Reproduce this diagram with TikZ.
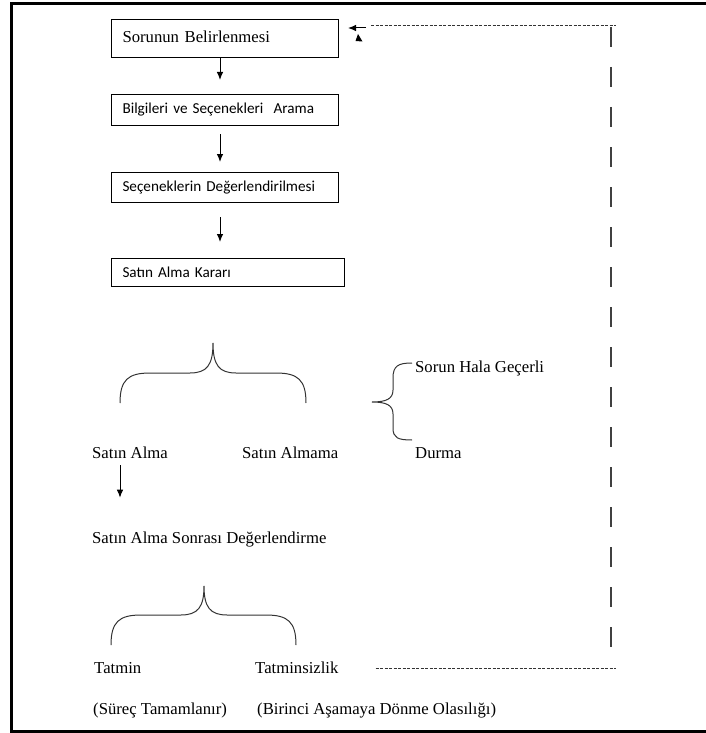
\documentclass[tikz,border=0pt]{standalone}
\usepackage{fontspec}
\setmainfont{Liberation Serif}
\newfontfamily\calibri{Carlito}
\usetikzlibrary{positioning, arrows.meta}
\tikzstyle{adim}=[draw,line width=1pt,anchor=north west,minimum width=227pt,text width=205pt,inner xsep=11pt,align=left,font=\calibri\fontsize{15.2}{18}\selectfont]
\tikzstyle{etiket}=[anchor=base west,inner sep=0pt,font=\fontsize{16.7}{20}\selectfont]
\tikzstyle{ok}=[-{Latex[length=8pt,width=6.5pt]},line width=1pt]
\tikzstyle{kavis}=[line width=1pt,black!80]
\tikzstyle{ince}=[dash pattern=on 3pt off 1.5pt,line width=1pt,black!80]
\tikzstyle{kalin}=[dash pattern=on 20pt off 20pt,line width=1.6pt,black!75]

\begin{document}
\begin{tikzpicture}[x=1pt,y=-1pt]
    \useasboundingbox (0,0) rectangle (705,733);
    \draw[line width=3pt] (706,3.5) -- (11.5,3.5) -- (11.5,731.5) -- (706,731.5);
    % karar adimlari
    \node[adim,font=\fontsize{16.7}{20}\selectfont,text height=19pt,text depth=11pt,inner ysep=4pt] (b1) at (111,19) {Sorunun Belirlenmesi};
    \node[adim,minimum height=31pt] (b2) at (111,94) {Bilgileri ve Seçenekleri\ \ Arama};
    \node[adim,minimum height=30pt] (b3) at (111,172) {Seçeneklerin Değerlendirilmesi};
    \node[adim,minimum height=28pt,minimum width=233pt,text width=211pt] (b4) at (111,258) {Satın Alma Kararı};
    \foreach \a/\b/\s/\e in {b1/b2/0/14, b2/b3/8/10, b3/b4/14/16}
        \draw[ok,shorten <=\s pt,shorten >=\e pt] ([xshift=-5pt]\a.south) -- ([xshift=-5pt]\a.south |- \b.north);
    % sonuclar
    \foreach \n/\x/\y/\t in {sorun/415/372.5/Sorun Hala Geçerli, durma/415/458.5/Durma, alma/92/458.5/Satın Alma,
        almama/242/458.5/Satın Almama, sonra/92/543.5/Satın Alma Sonrası Değerlendirme, tatmin/94/673.5/Tatmin,
        tatminsiz/255/673.5/Tatminsizlik, surec/93/714.5/(Süreç Tamamlanır), birinci/257/714.5/(Birinci Aşamaya Dönme Olasılığı)}
        \node[etiket] (\n) at (\x,\y) {\t};
    \draw[ok,shorten <=6.5pt,shorten >=34pt] ([xshift=28pt]alma.south west) -- ([xshift=28pt]alma.south west |- sonra.north);
    % kavisler
    \draw[kavis] (120,403) .. controls (120,380) and (128,373) .. (150,373) -- (190,373) .. controls (207,373) and (213,365) .. (213,343)
        .. controls (213,365) and (219,373) .. (236,373) -- (276,373) .. controls (298,373) and (306,380) .. (306,403);
    \draw[kavis] (412,363) .. controls (398,363) and (393,366) .. (393,378) -- (393,390) .. controls (393,399) and (386,402) .. (372,402)
        .. controls (386,402) and (393,405) .. (393,414) -- (393,428) .. controls (393,438) and (398,440) .. (412,440);
    \draw[kavis] (111,645) .. controls (111,622) and (119,615) .. (141,615) -- (181,615) .. controls (198,615) and (204,607) .. (204,586)
        .. controls (204,607) and (210,615) .. (227,615) -- (266,615) .. controls (288,615) and (296,622) .. (296,645);
    % geri donus
    \coordinate (kose1) at (616,26);
    \coordinate (kose2) at (616,668);
    \coordinate (geri) at (366,28);
    \draw[ince] ([xshift=37pt]tatminsiz.east |- kose2) -- (kose2);
    \draw[kalin] (611,27) -- (611,663);
    \draw[ince] (371,26) -- (kose1);
    \draw[ok,shorten >=9pt] (geri) -- (geri -| b1.east);
    \fill (355.5,41) -- (362.5,41.5) -- (358,34) -- cycle;
\end{tikzpicture}
\end{document}
